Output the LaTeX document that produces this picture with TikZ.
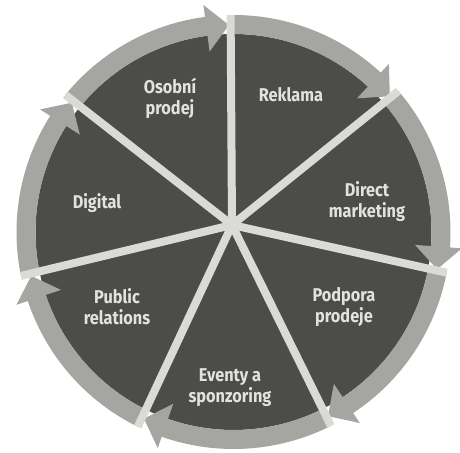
\documentclass[tikz,border=0pt]{standalone}
\usepackage{fontspec}
\setmainfont{Fira Sans}[FakeStretch=0.88]
\usetikzlibrary{calc}
\definecolor{sector}{HTML}{4C4D48}
\definecolor{band}{HTML}{A5A5A2}
\definecolor{sepc}{HTML}{DADAD6}
\definecolor{lblc}{HTML}{E2E2DE}
\begin{document}
\begin{tikzpicture}[x=1pt,y=1pt,
  lbl/.style={text=lblc, font=\bfseries\fontsize{18.5}{21}\selectfont, align=center, inner sep=0pt},
  sepline/.style={draw=sepc, line width=8pt}]
\useasboundingbox (0,0) rectangle (460,452);
\coordinate (C) at (233.5,220);
\coordinate (P) at (232,227);
\fill[sector] (C) circle (198);
\foreach \sa/\ea in {140.84/90.75, 90.75/40.46, 40.46/-10.88, -10.88/-63.33, -63.33/-116.13, -116.13/-168.25, -168.25/-219.16} {
  \pgfmathsetmacro\myb{\ea+6.8}
  \pgfmathsetmacro\myt{\ea+0.5}
  \fill[band] ($(C)+(\sa:217)$) arc[start angle=\sa, end angle=\myb, radius=217]
    -- ($(C)+(\myb:229)$) -- ($(C)+(\myt:207)$) -- ($(C)+(\myb:182)$)
    -- ($(C)+(\myb:198)$) arc[start angle=\myb, end angle=\sa, radius=198] -- cycle;
}
\begin{scope}
\clip (C) circle (217);
\foreach \a in {90.75, 40.46, -10.88, -63.33, -116.13, -168.25, 140.84}
  \draw[sepline] (P) -- ($(C)+(\a:226)$);
\end{scope}
\node[lbl] (osobni) at (170,354) {Osobní\\prodej};
\node[lbl] (reklama) at (291,357) {Reklama};
\node[lbl] (direct) at (367,250) {Direct\\marketing};
\node[lbl] (podpora) at (344,145) {Podpora\\prodeje};
\node[lbl] (eventy) at (230,64) {Eventy a\\sponzoring};
\node[lbl] (public) at (117,145) {Public\\relations};
\node[lbl] (digital) at (97,249) {Digital};
\end{tikzpicture}
\end{document}
